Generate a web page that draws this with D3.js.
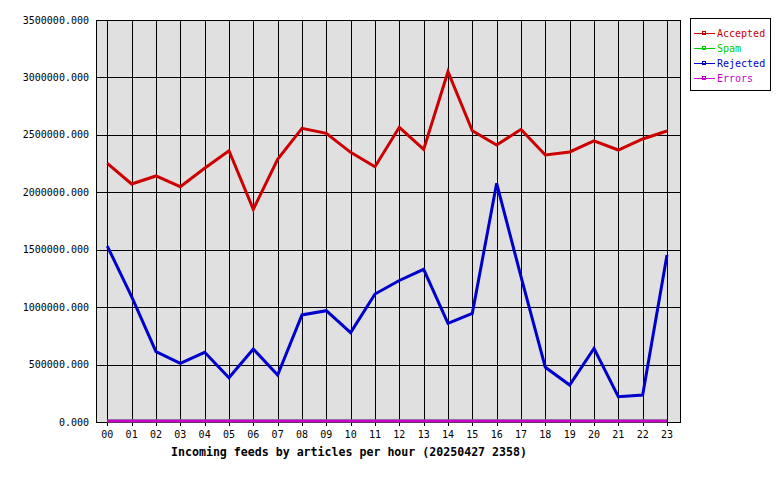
<!DOCTYPE html>
<html><head><meta charset="utf-8">
<script src="https://cdn.jsdelivr.net/npm/d3@7"></script>
<style>body{margin:0;background:#fff}svg{display:block}text{font-family:"DejaVu Sans Mono",monospace}</style>
</head><body><svg id="c" width="780" height="480"></svg>
<script>
const hours = ["00","01","02","03","04","05","06","07","08","09","10","11","12","13","14","15","16","17","18","19","20","21","22","23"];
const accepted = [2252000,2072000,2142000,2049000,2209000,2362000,1852000,2287000,2557000,2513000,2348000,2223000,2566000,2374000,3050000,2536000,2412000,2548000,2325000,2351000,2447000,2368000,2464000,2534000];
const spam = [0,0,0,0,0,0,0,0,0,0,0,0,0,0,0,0,0,0,0,0,0,0,0,0];
const rejected = [1532000,1091000,612000,511000,607000,386000,636000,409000,932000,969000,778000,1114000,1232000,1329000,859000,946000,2078000,1265000,476000,322000,641000,220000,235000,1454000];
const errors = [0,0,0,0,0,0,0,0,0,0,0,0,0,0,0,0,0,0,0,0,0,0,0,0];
const yTicks = [0,500000,1000000,1500000,2000000,2500000,3000000,3500000];
const seriesNames = ["Accepted","Spam","Rejected","Errors"];
const seriesColors = ["#cc0000","#00cc00","#0000cc","#cc00cc"];
const title = "Incoming feeds by articles per hour (20250427 2358)";

const svg = d3.select("#c");
const L = 96, R = 680, T = 20, B = 422;
const x = d3.scalePoint().domain(hours).range([107.3, 667]);
const y = d3.scaleLinear().domain([0, 3500000]).range([B, T]);

svg.append("rect").attr("x", L).attr("y", T).attr("width", R - L).attr("height", B - T).attr("fill", "#e0e0e0");

// horizontal grid
svg.append("g").selectAll("line").data(yTicks).join("line")
  .attr("x1", L).attr("x2", R)
  .attr("y1", d => Math.round(y(d)) + 0.5).attr("y2", d => Math.round(y(d)) + 0.5)
  .attr("stroke", "#000").attr("stroke-width", 1);
// vertical grid + ticks
svg.append("g").selectAll("line").data(hours).join("line")
  .attr("x1", d => Math.round(x(d)) + 0.5).attr("x2", d => Math.round(x(d)) + 0.5)
  .attr("y1", T).attr("y2", B + 4)
  .attr("stroke", "#000").attr("stroke-width", 1);
// border
svg.append("rect").attr("x", L + 0.5).attr("y", T + 0.5).attr("width", R - L).attr("height", B - T)
  .attr("fill", "none").attr("stroke", "#000");

// y labels
svg.append("g").selectAll("text").data(yTicks).join("text")
  .attr("x", 89).attr("y", d => y(d) + 3.5).attr("text-anchor", "end")
  .attr("font-size", "10px").attr("fill", "#000")
  .text(d => d3.format(".3f")(d));
// x labels
svg.append("g").selectAll("text").data(hours).join("text")
  .attr("x", d => x(d)).attr("y", 438).attr("text-anchor", "middle")
  .attr("font-size", "10px").attr("fill", "#000").text(d => d);

svg.append("text").attr("x", 349).attr("y", 456).attr("text-anchor", "middle")
  .attr("font-size", "11.6px").attr("font-weight", "bold").attr("fill", "#000").text(title);

const series = [accepted, spam, rejected, errors];
const line = d3.line().x((d, i) => x(hours[i])).y(d => Math.min(y(d), B - 1));
series.forEach((s, k) => {
  svg.append("path").datum(s).attr("d", line).attr("fill", "none")
    .attr("stroke", seriesColors[k]).attr("stroke-width", 3).attr("stroke-linejoin", "miter");
});

// legend
const lg = svg.append("g");
lg.append("rect").attr("x", 690.5).attr("y", 18.5).attr("width", 80).attr("height", 72)
  .attr("fill", "#fff").attr("stroke", "#000");
seriesNames.forEach((n, k) => {
  const yy = 33 + k * 15;
  lg.append("line").attr("x1", 694).attr("x2", 715).attr("y1", yy + 0.5).attr("y2", yy + 0.5)
    .attr("stroke", seriesColors[k]).attr("stroke-width", 1);
  lg.append("rect").attr("x", 702.5).attr("y", yy - 1.5).attr("width", 3).attr("height", 3)
    .attr("fill", "none").attr("stroke", seriesColors[k]).attr("stroke-width", 1);
  lg.append("text").attr("x", 717).attr("y", yy + 4).attr("font-size", "10px")
    .attr("fill", seriesColors[k]).text(n);
});
</script></body></html>
